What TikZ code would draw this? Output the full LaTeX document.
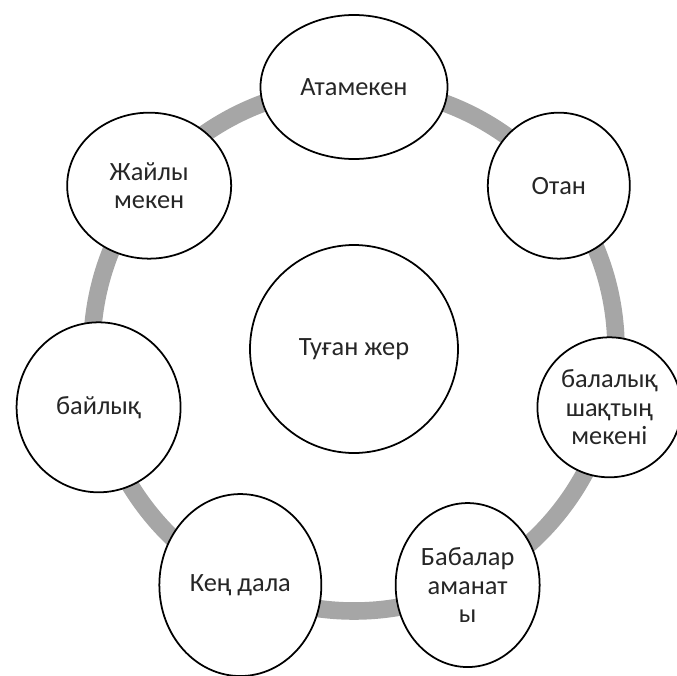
\documentclass[tikz,border=0pt]{standalone}
\usepackage{fontspec}
\setmainfont{Carlito}
\usetikzlibrary{shapes.geometric}

\begin{document}
\begin{tikzpicture}[
  item/.style={ellipse, draw=black, line width=1.5pt, fill=white, inner sep=-0.3cm,
    align=center, text=black!85, font=\fontsize{22.5}{24.5}\selectfont},
  ring/.style={draw=black!35, line width=15pt}
]
\useasboundingbox (-10.62,-9.78) rectangle (9.69,10.47);

% draw the grey ring
\coordinate (c) at (0,0);
\draw[ring] (c) circle (7.86cm);

% draw the centre circle
\node[item, minimum width=6.24cm, minimum height=6.24cm] (tugan) at (c) {Туған жер};

% draw nodes on the ring
\node[item, minimum width=5.61cm, minimum height=4.32cm] (atameken) at (90:7.86) {Атамекен};
\node[item, minimum width=4.26cm, minimum height=4.38cm] (otan) at (38.57:7.86) {Отан};
\node[item, minimum width=4.32cm, minimum height=4.2cm] (balalyq) at (-12.86:7.86) {балалық\\шақтың\\мекені};
\node[item, minimum width=4.32cm, minimum height=4.92cm] (babalar) at (-64.29:7.86) {Бабалар\\аманат\\ы};
\node[item, minimum width=4.86cm, minimum height=5.46cm] (kendala) at (-115.71:7.86) {Кең дала};
\node[item, minimum width=4.92cm, minimum height=5.1cm] (bailyq) at (192.86:7.86) {байлық};
\node[item, minimum width=4.92cm, minimum height=4.38cm] (zhaily) at (141.43:7.86) {Жайлы\\мекен};

\end{tikzpicture}
\end{document}
